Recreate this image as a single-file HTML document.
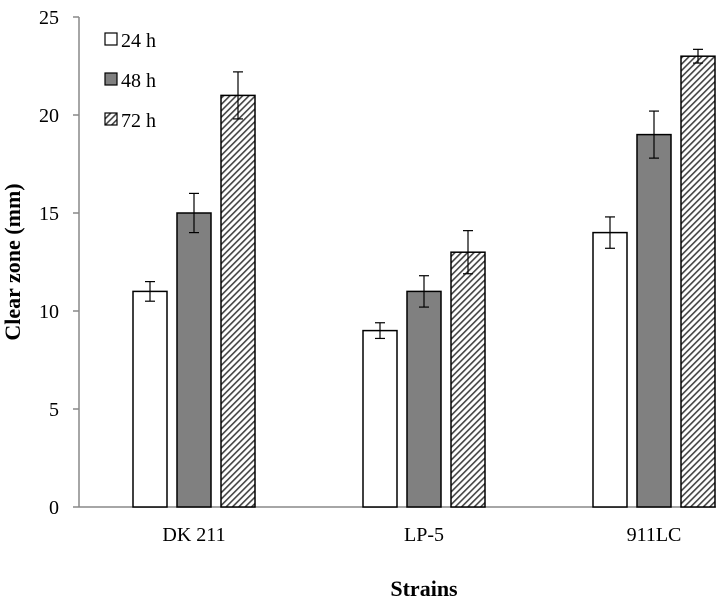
<!DOCTYPE html>
<html><head><meta charset="utf-8"><style>body{margin:0;background:#fff}svg{display:block}</style></head>
<body>
<svg width="719" height="610" xmlns="http://www.w3.org/2000/svg" font-family="Liberation Serif, serif">
<defs>
<pattern id="hatch" patternUnits="userSpaceOnUse" width="4.5" height="4.5" patternTransform="rotate(45)">
<rect width="4.5" height="4.5" fill="#fff"/><rect width="1.6" height="4.5" fill="#444"/>
</pattern>
</defs>
<g id="axes"></g>
<g id="bars"></g>
<g id="legend">
<rect x="105" y="33" width="12" height="12" fill="#fff" stroke="#000" stroke-width="1.2"/>
<text x="121" y="47" font-size="20">24 h</text>
<rect x="105" y="73" width="12" height="12" fill="#808080" stroke="#000" stroke-width="1.2"/>
<text x="121" y="87" font-size="20">48 h</text>
<rect x="105" y="113" width="12" height="12" fill="url(#hatch)" stroke="#000" stroke-width="1.2"/>
<text x="121" y="127" font-size="20">72 h</text>
</g>
<text transform="translate(20,262) rotate(-90)" text-anchor="middle" font-size="22" font-weight="bold">Clear zone (mm)</text>
<text x="424" y="596" text-anchor="middle" font-size="22" font-weight="bold">Strains</text>
<script>
const categories=["DK 211","LP-5","911LC"];
const series=["24h","48h","72h"];
const v24=[11,9,14];
const v48=[15,11,19];
const v72=[21,13,23];
const e24=[0.5,0.4,0.8];
const e48=[1,0.8,1.2];
const e72=[1.2,1.1,0.35];
const yTicks=[0,5,10,15,20,25];
const NS="http://www.w3.org/2000/svg";
function y(v){return 507-v*(490/25);}
function xc(i){return 194+i*230;}
function mk(t,a,p){const e=document.createElementNS(NS,t);for(const k in a)e.setAttribute(k,a[k]);p.appendChild(e);return e;}
const ax=document.getElementById('axes'),bg=document.getElementById('bars');
const yl=mk('line',{x1:79,y1:y(25),x2:79,y2:507,stroke:'#888','stroke-width':1.5},ax);


const xl=mk('line',{x1:79,y1:507,x2:716,y2:507,stroke:'#888','stroke-width':1.5},ax);


yTicks.forEach(t=>{
 mk('line',{x1:73,y1:y(t),x2:79,y2:y(t),stroke:'#888','stroke-width':1.5},ax);
 const tx=mk('text',{x:59,y:y(t)+7,'text-anchor':'end','font-size':20},ax);tx.textContent=t;
 
 
});
categories.forEach((c,i)=>{
 const tx=mk('text',{x:xc(i),y:541,'text-anchor':'middle','font-size':20},ax);tx.textContent=c;
 
 
});
const vals=[v24,v48,v72],errs=[e24,e48,e72],fills=['#fff','#808080','url(#hatch)'],offs=[-44,0,44];
categories.forEach((c,i)=>{
 for(let s=0;s<3;s++){
  const v=vals[s][i],e=errs[s][i],x=xc(i)+offs[s];
  const r=mk('rect',{x:x-17,y:y(v),width:34,height:507-y(v),fill:fills[s],stroke:'#000','stroke-width':1.5},bg);
  
  
  const g=mk('g',{stroke:'#000','stroke-width':1.2},bg);
  
  
  mk('line',{x1:x,y1:y(v+e),x2:x,y2:y(v-e)},g);
  mk('line',{x1:x-5,y1:y(v+e),x2:x+5,y2:y(v+e)},g);
  mk('line',{x1:x-5,y1:y(v-e),x2:x+5,y2:y(v-e)},g);
 }
});
</script>
</svg>
</body></html>
